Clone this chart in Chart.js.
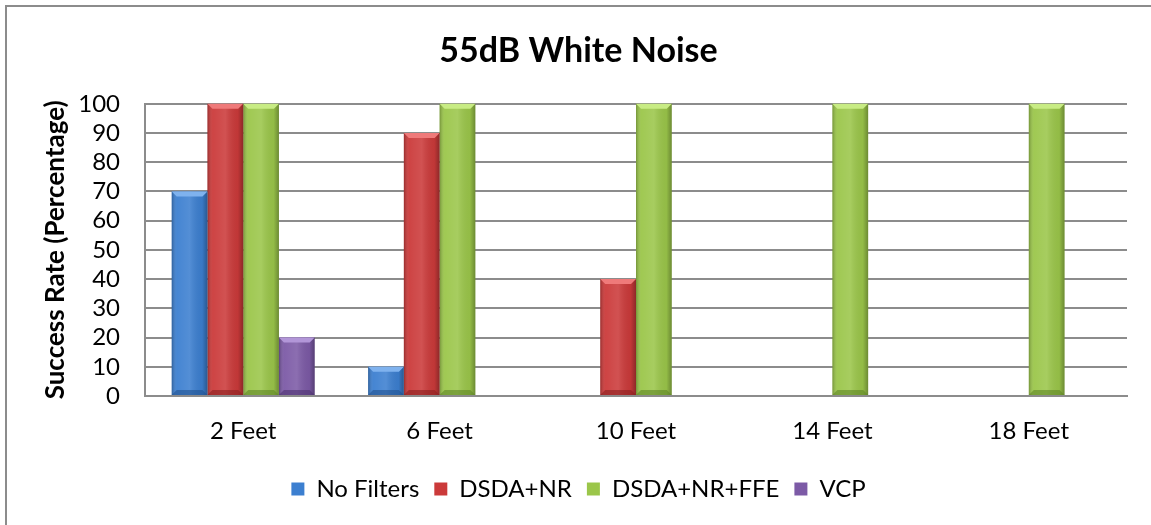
<!DOCTYPE html>
<html>
<head>
<meta charset="utf-8">
<script src="https://cdn.jsdelivr.net/npm/chart.js@4/dist/chart.umd.min.js"></script>
<style>
  html, body { margin: 0; padding: 0; background: #fff; overflow: hidden; }
  #frame { position: absolute; left: 5px; top: 5px; width: 1200px; height: 600px; border: 2px solid #8c8c8c; }
  #wrap { position: absolute; left: 0; top: 0; width: 1151px; height: 525px; }
</style>
</head>
<body>
<div id="frame"></div>
<div id="wrap"><canvas id="noiseChart" width="1151" height="525"></canvas></div>
<script>
const distances = ['2 Feet', '6 Feet', '10 Feet', '14 Feet', '18 Feet'];
const noFilters = [70, 10, 0, 0, 0];
const dsdaNr = [100, 90, 40, 0, 0];
const dsdaNrFfe = [100, 100, 100, 100, 100];
const vcp = [20, 0, 0, 0, 0];

const palette = [
    { fill: '#3c7fd0', light: '#7fb2ee', dark: '#22518f' },
    { fill: '#cb3a3a', light: '#ef7a7a', dark: '#8a1f1f' },
    { fill: '#9bc64a', light: '#c8ec84', dark: '#5f8526' },
    { fill: '#7c5aa6', light: '#b296d8', dark: '#4c3270' }
];

// adds the bevel look of the original bars
const bevelPlugin = {
    id: 'bevel',
    afterDatasetsDraw(chart) {
        const ctx = chart.ctx;
        chart.data.datasets.forEach((ds, i) => {
            const meta = chart.getDatasetMeta(i);
            const col = palette[i];
            meta.data.forEach(bar => {
                const h = bar.base - bar.y;
                if (h < 1) return;
                const l = bar.x - bar.width / 2;
                const r = bar.x + bar.width / 2;
                const b = 5;
                ctx.save();
                let g = ctx.createLinearGradient(l, 0, r, 0);
                g.addColorStop(0, 'rgba(0,0,0,0.25)');
                g.addColorStop(0.15, 'rgba(255,255,255,0.05)');
                g.addColorStop(0.5, 'rgba(255,255,255,0.12)');
                g.addColorStop(0.85, 'rgba(0,0,0,0.05)');
                g.addColorStop(1, 'rgba(0,0,0,0.3)');
                ctx.fillStyle = g;
                ctx.fillRect(l, bar.y, r - l, h);
                // top bevel
                ctx.fillStyle = col.light;
                ctx.beginPath();
                ctx.moveTo(l, bar.y);
                ctx.lineTo(r, bar.y);
                ctx.lineTo(r - b, bar.y + b);
                ctx.lineTo(l + b, bar.y + b);
                ctx.closePath();
                ctx.fill();
                // bottom edge
                ctx.fillStyle = col.dark;
                ctx.beginPath();
                ctx.moveTo(l, bar.base);
                ctx.lineTo(r, bar.base);
                ctx.lineTo(r - b, bar.base - b);
                ctx.lineTo(l + b, bar.base - b);
                ctx.closePath();
                ctx.globalAlpha = 0.6;
                ctx.fill();
                ctx.restore();
            });
        });
    }
};

const ctx = document.getElementById('noiseChart').getContext('2d');
const fontFamily = 'Lato, Carlito, "Noto Sans", sans-serif';

new Chart(ctx, {
    type: 'bar',
    data: {
        labels: distances,
        datasets: [
            { label: 'No Filters', data: noFilters, backgroundColor: palette[0].fill },
            { label: 'DSDA+NR', data: dsdaNr, backgroundColor: palette[1].fill },
            { label: 'DSDA+NR+FFE', data: dsdaNrFfe, backgroundColor: palette[2].fill },
            { label: 'VCP', data: vcp, backgroundColor: palette[3].fill }
        ]
    },
    options: {
        responsive: false,
        animation: false,
        layout: { padding: { left: 30, right: 24, top: 0, bottom: 14 } },
        datasets: {
            bar: { categoryPercentage: 0.728, barPercentage: 1.0, borderWidth: 0 }
        },
        plugins: {
            title: {
                display: true,
                text: '55dB White Noise',
                color: '#000',
                font: { family: fontFamily, size: 34, weight: 'bold' },
                padding: { top: 31, bottom: 32 }
            },
            legend: {
                position: 'bottom',
                labels: {
                    color: '#000',
                    font: { family: fontFamily, size: 24 },
                    boxWidth: 13,
                    boxHeight: 13,
                    padding: 15
                }
            },
            tooltip: { enabled: false }
        },
        scales: {
            x: {
                grid: { display: true, drawOnChartArea: false, drawTicks: false },
                border: { display: true, color: '#8c8c8c', width: 2 },
                ticks: { color: '#000', font: { family: fontFamily, size: 24 }, padding: 21 },
                afterFit: scale => { scale.height = 66; }
            },
            y: {
                min: 0,
                max: 100,
                ticks: { stepSize: 10, autoSkip: false, color: '#000', font: { family: fontFamily, size: 24 }, padding: 25 },
                grid: { color: '#8c8c8c', lineWidth: 2, drawTicks: false },
                border: { display: true, color: '#8c8c8c', width: 2 },
                title: {
                    display: true,
                    text: 'Success Rate (Percentage)',
                    color: '#000',
                    font: { family: fontFamily, size: 26, weight: 'bold' },
                    padding: 10
                },
                afterFit: scale => { scale.width = 115; }
            }
        }
    },
    plugins: [bevelPlugin]
});
</script>
</body>
</html>
